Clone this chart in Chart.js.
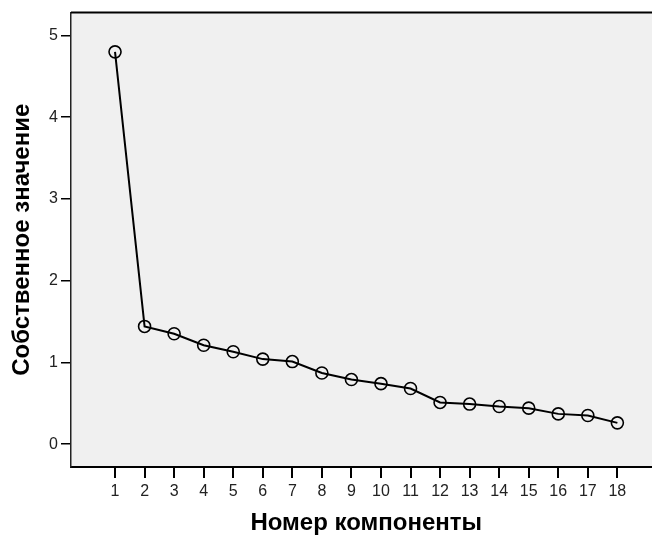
<!DOCTYPE html>
<html>
<head>
<meta charset="utf-8">
<script src="https://cdn.jsdelivr.net/npm/chart.js@4/dist/chart.umd.min.js"></script>
<style>
  html, body { margin: 0; padding: 0; background: #fff; overflow: hidden; }
  #wrap { width: 669px; height: 538px; position: relative; }
</style>
</head>
<body>
<div id="wrap"><canvas id="scree"></canvas></div>
<script>
// Номер компоненты / собственное значение
const components = [1, 2, 3, 4, 5, 6, 7, 8, 9, 10, 11, 12, 13, 14, 15, 16, 17, 18];
const eigenvalues = [4.80, 1.44, 1.35, 1.21, 1.13, 1.04, 1.01, 0.87, 0.79, 0.74, 0.68, 0.51, 0.49, 0.46, 0.44, 0.37, 0.35, 0.26];
const yTicks = [0, 1, 2, 3, 4, 5];

const FONT = '"Liberation Sans", Arial, sans-serif';

// серый фон области и верхняя рамка
const framePlugin = {
  id: 'frame',
  beforeDraw(chart) {
    const { ctx, chartArea: a } = chart;
    ctx.save();
    ctx.fillStyle = '#F0F0F0';
    ctx.fillRect(a.left, a.top, a.right - a.left, a.bottom - a.top);
    ctx.restore();
  },
  afterDraw(chart) {
    const { ctx, chartArea: a } = chart;
    ctx.save();
    ctx.strokeStyle = '#000';
    ctx.lineWidth = 2;
    ctx.beginPath();
    ctx.moveTo(a.left, a.top);
    ctx.lineTo(a.right, a.top);
    ctx.stroke();
    ctx.restore();
  },
};

new Chart(document.getElementById('scree'), {
  type: 'line',
  data: {
    datasets: [{
      data: components.map((c, i) => ({ x: c, y: eigenvalues[i] })),
      borderColor: '#000',
      borderWidth: 2,
      pointRadius: 6,
      pointBorderWidth: 1.6,
      pointBorderColor: '#000',
      pointBackgroundColor: 'rgba(0,0,0,0)',
      tension: 0,
      fill: false,
    }],
  },
  options: {
    responsive: true,
    maintainAspectRatio: false,
    animation: false,
    layout: { padding: { top: 12, right: 2, left: 0, bottom: 0 } },
    plugins: { legend: { display: false }, tooltip: { enabled: false } },
    scales: {
      x: {
        type: 'linear',
        min: -0.49,
        max: 19.49,
        afterBuildTicks: s => { s.ticks = components.map(v => ({ value: v })); },
        afterFit: s => { s.height = 71; },
        grid: { drawOnChartArea: false, tickLength: 11, color: '#000', lineWidth: 2 },
        border: { color: '#000', width: 2 },
        ticks: { color: '#222', padding: 4, maxRotation: 0, font: { family: FONT, size: 16 } },
        title: {
          display: true,
          text: 'Номер компоненты',
          color: '#000',
          padding: { top: 0, bottom: 0 },
          font: { family: FONT, size: 24, weight: 'bold' },
        },
      },
      y: {
        min: -0.28,
        max: 5.28,
        afterBuildTicks: s => { s.ticks = yTicks.map(v => ({ value: v })); },
        afterFit: s => { s.width = 71; },
        grid: { drawOnChartArea: false, tickLength: 10, color: '#000', lineWidth: 1.5 },
        border: { color: '#222', width: 1.5 },
        ticks: { color: '#222', padding: 3, font: { family: FONT, size: 16 } },
        title: {
          display: true,
          text: 'Собственное значение',
          color: '#000',
          padding: { top: 8, bottom: 0 },
          font: { family: FONT, size: 24, weight: 'bold' },
        },
      },
    },
  },
  plugins: [framePlugin],
});
</script>
</body>
</html>
